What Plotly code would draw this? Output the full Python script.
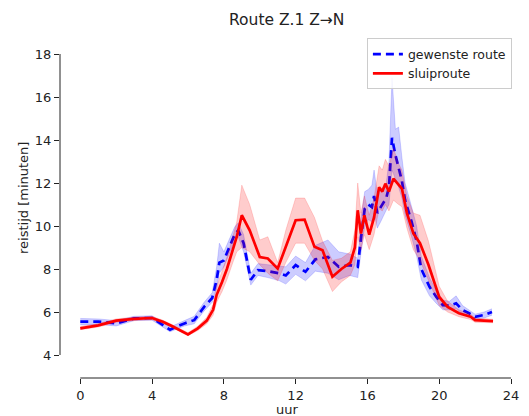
import plotly.graph_objects as go

# Travel time per hour of day: preferred route vs. rat-run (sluiproute)
uur_gewenst = [0, 1, 2, 3, 4, 5, 5.8, 6.35, 6.9, 7.35, 7.6, 7.75, 8.0, 8.3, 8.6, 8.8,
               9.1, 9.5, 9.9, 10.45, 11.1, 11.45, 12.0, 12.55, 13.1, 13.8, 14.4, 15.0,
               15.46, 15.65, 15.85, 16.05, 16.25, 16.37, 16.55, 16.74, 17.05, 17.2,
               17.37, 17.56, 17.74, 17.92, 18.1, 18.46, 18.74, 19.0, 19.46, 19.84,
               20.2, 20.57, 20.94, 21.3, 21.66, 22.0, 22.5, 22.94]
gewenst = [5.55, 5.55, 5.47, 5.70, 5.72, 5.18, 5.47, 5.62, 6.24, 6.65, 7.5, 8.3, 8.4,
           9.0, 9.6, 9.8, 9.2, 7.5, 7.95, 7.9, 7.8, 7.7, 8.18, 7.87, 8.45, 8.56, 8.1,
           8.18, 8.1, 9.5, 10.8, 11.0, 10.88, 11.4, 10.6, 10.88, 11.3, 11.8, 14.1,
           13.3, 12.7, 12.1, 11.2, 10.2, 9.3, 8.0, 7.17, 6.7, 6.32, 6.3, 6.4, 6.09,
           5.94, 5.78, 5.86, 6.0]
gewenst_laag = [5.4, 5.42, 5.35, 5.6, 5.62, 5.08, 5.35, 5.45, 6.05, 6.45, 7.1, 7.8,
                8.1, 8.7, 9.3, 9.5, 8.8, 7.25, 7.7, 7.6, 7.45, 7.3, 7.75, 7.45, 7.9,
                7.8, 7.5, 7.7, 7.6, 8.8, 10.0, 10.3, 10.2, 10.6, 9.9, 10.2, 10.7, 11.0,
                12.6, 12.2, 11.8, 11.3, 10.5, 9.5, 8.6, 7.5, 6.75, 6.4, 6.1, 6.1, 6.15,
                5.9, 5.8, 5.68, 5.72, 5.85]
gewenst_hoog = [5.7, 5.68, 5.6, 5.8, 5.82, 5.3, 5.6, 5.8, 6.45, 6.9, 8.1, 9.2, 8.8,
                9.35, 9.95, 10.15, 9.6, 7.8, 8.25, 8.2, 8.15, 8.1, 8.6, 8.3, 9.1, 9.35,
                8.8, 8.7, 8.5, 10.4, 11.6, 11.7, 11.9, 12.6, 11.5, 11.7, 12.0, 13.0,
                16.9, 14.5, 14.6, 13.2, 12.0, 10.9, 10.0, 8.6, 7.6, 7.0, 6.55, 6.5,
                6.75, 6.3, 6.1, 5.9, 6.0, 6.15]

uur_sluip = [0, 1, 2, 3, 4, 4.6, 5.1, 6.0, 6.55, 7.05, 7.4, 7.6, 7.9, 8.17, 8.5, 8.72,
             9.0, 9.44, 10.0, 10.45, 11.0, 11.45, 12.0, 12.5, 13.05, 13.5, 14.05, 14.55,
             15.05, 15.3, 15.46, 15.64, 15.83, 16.1, 16.37, 16.65, 16.83, 17.0, 17.2,
             17.45, 17.74, 17.92, 18.2, 18.56, 18.93, 19.4, 20.0, 20.47, 21.1, 21.75,
             22.0, 23.0]
sluip = [5.24, 5.38, 5.6, 5.68, 5.72, 5.55, 5.35, 4.96, 5.24, 5.6, 6.1, 6.8, 7.4, 8.0,
         8.9, 9.5, 10.5, 9.8, 8.56, 8.49, 8.02, 9.0, 10.27, 10.3, 9.03, 8.87, 7.64,
         8.0, 8.3, 9.0, 10.73, 9.65, 10.5, 9.6, 10.4, 11.8, 11.6, 11.97, 11.6, 12.2,
         11.89, 11.74, 10.6, 9.65, 9.2, 8.2, 6.7, 6.24, 5.94, 5.78, 5.62, 5.58]
sluip_laag = [5.18, 5.3, 5.52, 5.6, 5.64, 5.48, 5.28, 4.9, 5.14, 5.45, 5.85, 6.45,
              6.95, 7.5, 8.3, 8.8, 9.0, 8.8, 8.2, 7.8, 7.45, 8.3, 9.2, 9.2, 8.4, 8.0,
              6.95, 7.4, 7.7, 8.2, 9.5, 8.9, 9.6, 8.9, 9.6, 10.8, 10.7, 11.0, 10.7,
              11.2, 11.0, 10.9, 9.9, 8.9, 8.4, 7.5, 6.3, 6.0, 5.78, 5.65, 5.52, 5.5]
sluip_hoog = [5.32, 5.46, 5.68, 5.76, 5.8, 5.62, 5.42, 5.04, 5.34, 5.75, 6.35, 7.2,
              7.9, 8.55, 9.5, 10.2, 11.9, 11.0, 9.35, 9.5, 8.3, 9.8, 11.3, 11.3, 10.4,
              9.3, 8.4, 8.5, 8.8, 9.8, 12.0, 10.6, 11.4, 10.5, 11.3, 12.8, 12.6, 13.1,
              12.8, 13.6, 12.9, 12.6, 11.4, 10.6, 10.5, 9.3, 7.2, 6.5, 6.1, 5.9, 5.72,
              5.66]

x_ticks = [0, 4, 8, 12, 16, 20, 24]
y_ticks = [4, 6, 8, 10, 12, 14, 16, 18]

FONT = "DejaVu Sans, Verdana, sans-serif"
TXT = "#222222"
fig = go.Figure()


def add_series(x, mean, lo, hi, name, color, band, dash):
    fig.add_trace(go.Scatter(x=x, y=lo, mode="lines", line=dict(width=0.8, color=band),
                             showlegend=False, hoverinfo="skip"))
    fig.add_trace(go.Scatter(x=x, y=hi, mode="lines", line=dict(width=0.8, color=band),
                             fill="tonexty", fillcolor=band, showlegend=False,
                             hoverinfo="skip"))
    fig.add_trace(go.Scatter(x=x, y=mean, mode="lines", name=name,
                             line=dict(color=color, width=2.7, dash=dash)))


add_series(uur_gewenst, gewenst, gewenst_laag, gewenst_hoog, "gewenste route",
           "#0000ff", "rgba(0,0,255,0.2)", "8px,5px")
add_series(uur_sluip, sluip, sluip_laag, sluip_hoog, "sluiproute",
           "#ff0000", "rgba(255,0,0,0.2)", "solid")

# Offset spines, trimmed to the outer ticks
fig.add_shape(type="line", xref="x", yref="paper", x0=x_ticks[0], x1=x_ticks[-1],
              y0=0, y1=0, line=dict(color=TXT, width=1))
fig.add_shape(type="line", xref="paper", yref="y", x0=0, x1=0, y0=y_ticks[0],
              y1=y_ticks[-1], line=dict(color=TXT, width=1))

fig.update_layout(
    width=529, height=416,
    margin=dict(l=60, r=9.7, t=53.5, b=38),
    paper_bgcolor="white", plot_bgcolor="white",
    font=dict(family=FONT, size=13, color=TXT),
    showlegend=True,
    legend=dict(x=1.002, y=1.048, xanchor="right", yanchor="top",
                traceorder="normal",
                bgcolor="rgba(255,255,255,0.85)", bordercolor="#cccccc",
                borderwidth=1, font=dict(size=12.5, family=FONT, color=TXT),
                tracegroupgap=0, itemwidth=30),
    annotations=[
        dict(text="Route Z.1 Z→N", xref="paper", yref="paper", x=(291 - 60) / 459.3,
             y=(378 - 19) / 324.5, xanchor="center", yanchor="middle",
             showarrow=False, font=dict(size=15.5, family=FONT, color=TXT)),
        dict(text="uur", xref="paper", yref="paper", x=(291 - 60) / 459.3,
             y=(378 - 410) / 324.5, xanchor="center", yanchor="middle",
             showarrow=False, font=dict(size=13, family=FONT, color=TXT)),
        dict(text="reistijd [minuten]", xref="paper", yref="paper",
             x=(23 - 60) / 459.3, y=(378 - 198) / 324.5, textangle=-90,
             xanchor="center", yanchor="middle", showarrow=False,
             font=dict(size=13, family=FONT, color=TXT)),
    ],
)
fig.update_xaxes(range=[-1.13, 24], tickvals=x_ticks, ticks="outside", ticklen=5,
                 tickcolor=TXT, showline=False, showgrid=False, zeroline=False,
                 tickfont=dict(size=13, family=FONT, color=TXT))
fig.update_yaxes(range=[2.93, 18], tickvals=y_ticks, ticks="outside", ticklen=5,
                 tickcolor=TXT, showline=False, showgrid=False, zeroline=False,
                 tickfont=dict(size=13, family=FONT, color=TXT))

fig.write_html("out.html")
